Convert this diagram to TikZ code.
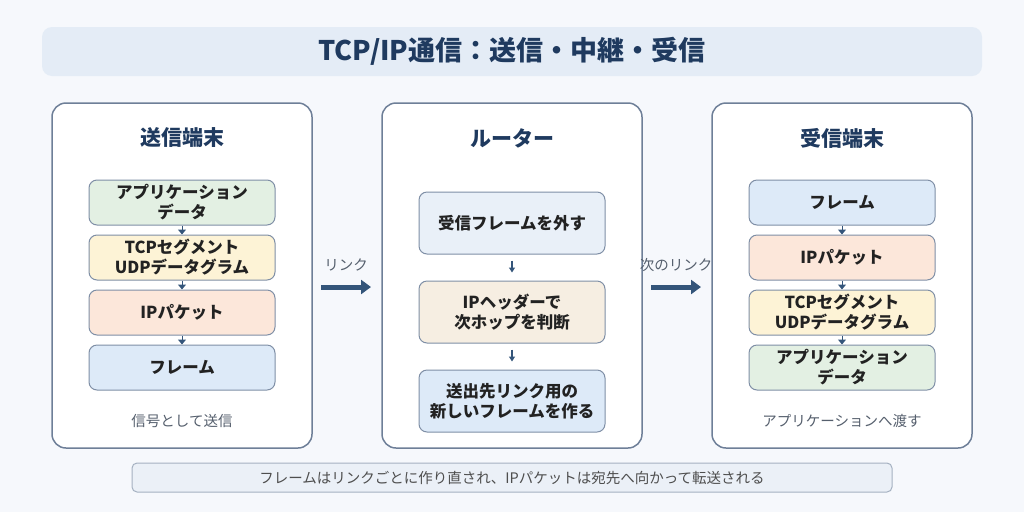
\documentclass[tikz,border=0pt]{standalone}
\usepackage{fontspec}
\setmainfont{Noto Sans CJK JP}
\usetikzlibrary{arrows.meta}
\definecolor{bg}{HTML}{F6F8FC}
\definecolor{navy}{HTML}{1F3A5F}
\definecolor{edge}{HTML}{6E7F98}
\definecolor{bedge}{HTML}{7F8FA6}
\definecolor{cgreen}{HTML}{E3F0E3}
\definecolor{cyellow}{HTML}{FDF3D6}
\definecolor{corange}{HTML}{FCE7DA}
\definecolor{cblue}{HTML}{DDEAF8}
\definecolor{cblue2}{HTML}{E9F0F8}
\definecolor{cbeige}{HTML}{F6EEE2}
\definecolor{band}{HTML}{E4ECF6}
\definecolor{noteb}{HTML}{EBF0F7}
\definecolor{txt}{HTML}{222222}
\definecolor{gtxt}{HTML}{555F6D}
\definecolor{arr}{HTML}{34557A}
\tikzset{
 x=1pt,y=-1pt,
 panel/.style={draw=edge,line width=1.5pt,fill=white,rounded corners=14pt},
 box/.style={draw=bedge,line width=1pt,rounded corners=8pt,minimum width=186pt,align=center,inner sep=0pt,font=\fontsize{16.5}{20}\selectfont\bfseries,text=txt},
 ptitle/.style={font=\fontsize{21}{24}\selectfont\bfseries,text=navy},
 foot/.style={font=\fontsize{14.5}{17}\selectfont,text=gtxt},
 tri/.style={-{Triangle[width=8pt,length=5pt]},draw=arr,line width=1pt},
 small/.style={-{Triangle[width=6pt,length=5pt]},draw=arr,line width=1.5pt},
 big/.style={-{Triangle[width=14pt,length=10pt]},draw=arr,line width=5pt},
 lbl/.style={font=\fontsize{14.5}{17}\selectfont,text=gtxt}
}
\begin{document}
\begin{tikzpicture}
\fill[bg] (0,0) rectangle (1024,512);
\useasboundingbox (0,0) rectangle (1024,512);
\fill[band,rounded corners=10pt] (42,27) rectangle (982,76);
\node[font=\fontsize{27}{30}\selectfont\bfseries,text=navy] (title) at (512,51) {TCP/IP通信：送信・中継・受信};
\draw[panel] (52,103) rectangle (312,448);
\draw[panel] (382,103) rectangle (642,448);
\draw[panel] (712,103) rectangle (972,448);
\node[ptitle] (t1) at (182,138) {送信端末};
\node[ptitle] (t2) at (512,138) {ルーター};
\node[ptitle] (t3) at (842,138) {受信端末};
% left
\node[box,fill=cgreen,minimum height=45pt] (l1) at (182,202.5) {アプリケーション\\データ};
\node[box,fill=cyellow,minimum height=45pt] (l2) at (182,257.5) {TCPセグメント\\UDPデータグラム};
\node[box,fill=corange,minimum height=45pt] (l3) at (182,312.5) {IPパケット};
\node[box,fill=cblue,minimum height=45pt] (l4) at (182,367.5) {フレーム};
\draw[tri] (l1.south) -- (l2.north);
\draw[tri] (l2.south) -- (l3.north);
\draw[tri] (l3.south) -- (l4.north);
\node[foot] (f1) at (182,421) {信号として送信};
% middle
\node[box,fill=cblue2,minimum height=62pt] (m1) at (512,223) {受信フレームを外す};
\node[box,fill=cbeige,minimum height=62pt] (m2) at (512,312) {IPヘッダーで\\次ホップを判断};
\node[box,fill=cblue,minimum height=62pt] (m3) at (512,401) {送出先リンク用の\\新しいフレームを作る};
\draw[small] ([yshift=-6pt]m1.south) -- ([yshift=8pt]m2.north);
\draw[small] ([yshift=-6pt]m2.south) -- ([yshift=8pt]m3.north);
% right
\node[box,fill=cblue,minimum height=45pt] (r1) at (842,202.5) {フレーム};
\node[box,fill=corange,minimum height=45pt] (r2) at (842,257.5) {IPパケット};
\node[box,fill=cyellow,minimum height=45pt] (r3) at (842,312.5) {TCPセグメント\\UDPデータグラム};
\node[box,fill=cgreen,minimum height=45pt] (r4) at (842,367.5) {アプリケーション\\データ};
\draw[tri] (r1.south) -- (r2.north);
\draw[tri] (r2.south) -- (r3.north);
\draw[tri] (r3.south) -- (r4.north);
\node[foot] (f3) at (842,421) {アプリケーションへ渡す};
% link arrows
\coordinate (a1s) at (321,287); \coordinate (a1e) at (371,287);
\coordinate (a2s) at (651,287); \coordinate (a2e) at (701,287);
\draw[big] (a1s) -- (a1e);
\draw[big] (a2s) -- (a2e);
\node[lbl] (k1) at (346,265) {リンク};
\node[lbl] (k2) at (676,265) {次のリンク};
% note
\draw[draw=bedge!70,fill=noteb,line width=1pt,rounded corners=5pt] (132,463) rectangle (892,492);
\node[font=\fontsize{14.5}{17}\selectfont,text=txt!80] (note) at (512,477.5) {フレームはリンクごとに作り直され、IPパケットは宛先へ向かって転送される};
\end{tikzpicture}
\end{document}
